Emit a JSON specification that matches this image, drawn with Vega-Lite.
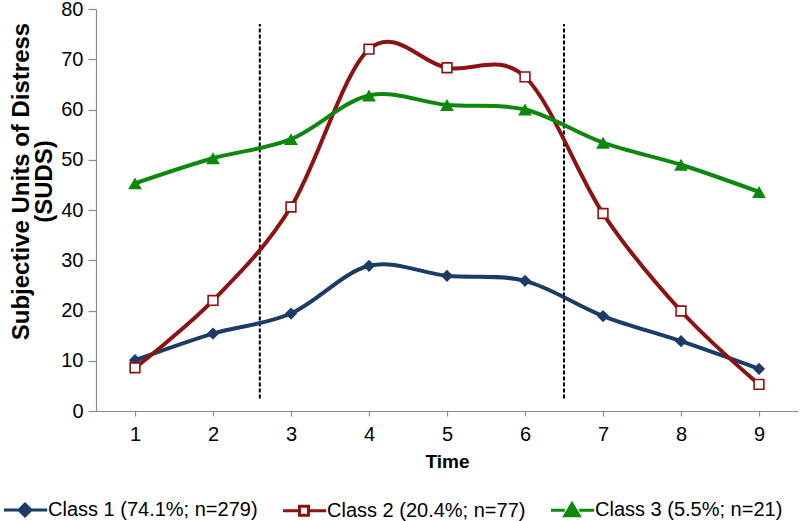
{
  "$schema": "https://vega.github.io/schema/vega-lite/v6.json",
  "width": 702,
  "height": 402,
  "autosize": "none",
  "padding": {"left": 96, "top": 9, "right": 2, "bottom": 110},
  "config": {
    "view": {"stroke": null},
    "font": "Liberation Sans",
    "axis": {"grid": false, "domainColor": "#8c8c8c", "tickColor": "#8c8c8c", "domainWidth": 1.2, "tickWidth": 1.2, "labelColor": "#000", "labelFont": "Liberation Sans", "titleFont": "Liberation Sans", "titleColor": "#000", "labelFontSize": 20, "titleFontWeight": "bold", "labelFlush": false, "labelOverlap": false},
    "axisX": {"tickSize": 5, "labelPadding": 8, "titlePadding": 8, "titleFontSize": 19},
    "axisY": {"tickSize": 8, "labelPadding": 5, "titlePadding": 4, "titleFontSize": 24, "titleLineHeight": 23},
    "legend": {"labelFontSize": 20, "labelColor": "#000", "labelFont": "Liberation Sans", "labelLimit": 400}
  },
  "datasets": {
    "pts": [
      {"series": "Class 1 (74.1%; n=279)", "time": 1, "suds": 10.1},
      {"series": "Class 1 (74.1%; n=279)", "time": 2, "suds": 15.4},
      {"series": "Class 1 (74.1%; n=279)", "time": 3, "suds": 19.4},
      {"series": "Class 1 (74.1%; n=279)", "time": 4, "suds": 28.9},
      {"series": "Class 1 (74.1%; n=279)", "time": 5, "suds": 26.9},
      {"series": "Class 1 (74.1%; n=279)", "time": 6, "suds": 25.9},
      {"series": "Class 1 (74.1%; n=279)", "time": 7, "suds": 18.9},
      {"series": "Class 1 (74.1%; n=279)", "time": 8, "suds": 13.9},
      {"series": "Class 1 (74.1%; n=279)", "time": 9, "suds": 8.4},
      {"series": "Class 2 (20.4%; n=77)", "time": 1, "suds": 8.6},
      {"series": "Class 2 (20.4%; n=77)", "time": 2, "suds": 22.0},
      {"series": "Class 2 (20.4%; n=77)", "time": 3, "suds": 40.6},
      {"series": "Class 2 (20.4%; n=77)", "time": 4, "suds": 72.0},
      {"series": "Class 2 (20.4%; n=77)", "time": 5, "suds": 68.3},
      {"series": "Class 2 (20.4%; n=77)", "time": 6, "suds": 66.5},
      {"series": "Class 2 (20.4%; n=77)", "time": 7, "suds": 39.3},
      {"series": "Class 2 (20.4%; n=77)", "time": 8, "suds": 19.9},
      {"series": "Class 2 (20.4%; n=77)", "time": 9, "suds": 5.3},
      {"series": "Class 3 (5.5%; n=21)", "time": 1, "suds": 45.3},
      {"series": "Class 3 (5.5%; n=21)", "time": 2, "suds": 50.3},
      {"series": "Class 3 (5.5%; n=21)", "time": 3, "suds": 54.1},
      {"series": "Class 3 (5.5%; n=21)", "time": 4, "suds": 62.8},
      {"series": "Class 3 (5.5%; n=21)", "time": 5, "suds": 60.9},
      {"series": "Class 3 (5.5%; n=21)", "time": 6, "suds": 60.0},
      {"series": "Class 3 (5.5%; n=21)", "time": 7, "suds": 53.4},
      {"series": "Class 3 (5.5%; n=21)", "time": 8, "suds": 49.0},
      {"series": "Class 3 (5.5%; n=21)", "time": 9, "suds": 43.6}
    ],
    "phases": [
      {"time": 2.6, "lo": 2.5, "hi": 77},
      {"time": 6.5, "lo": 2.5, "hi": 77}
    ]
  },
  "layer": [
    {
      "data": {"name": "phases"},
      "mark": {"type": "rule", "color": "#000", "strokeWidth": 2, "strokeDash": [4, 2]},
      "encoding": {
        "x": {"field": "time", "type": "quantitative", "scale": {"domain": [0.5, 9.5], "nice": false, "zero": false},
          "axis": {"values": [1, 2, 3, 4, 5, 6, 7, 8, 9], "format": "d", "title": "Time"}},
        "y": {"field": "lo", "type": "quantitative", "scale": {"domain": [0, 80], "nice": false},
          "axis": {"values": [0, 10, 20, 30, 40, 50, 60, 70, 80], "format": "d", "title": ["Subjective Units of Distress", "(SUDS)"], "titleY": 172}},
        "y2": {"field": "hi"}
      }
    },
    {
      "data": {"name": "pts"},
      "mark": {"type": "line", "interpolate": "cardinal", "tension": 0, "strokeWidth": 4},
      "encoding": {
        "x": {"field": "time", "type": "quantitative"},
        "y": {"field": "suds", "type": "quantitative"},
        "color": {"field": "series", "type": "nominal",
          "scale": {"domain": ["Class 1 (74.1%; n=279)", "Class 2 (20.4%; n=77)", "Class 3 (5.5%; n=21)"], "range": ["#1c3b68", "#8e1212", "#0c880c"]},
          "legend": {
            "orient": "none", "legendX": -96, "legendY": 491, "direction": "horizontal", "title": null, "padding": 0,
            "symbolSize": 144, "symbolStrokeWidth": 3,
            "labelOffset": 28, "columnPadding": 19,
            "encode": {"symbols": {"update": {
              "shape": {"signal": "datum.value === 'Class 1 (74.1%; n=279)' ? 'M-1,0H6.2M2.5,-1L3.5,0L2.5,1L1.5,0Z' : datum.value === 'Class 2 (20.4%; n=77)' ? 'M-1,0H1.75M3.25,0H6.2M1.75,-0.75H3.25V0.75H1.75Z' : 'M-1,0H1.3M3.7,0H6.2M2.5,-1.1L3.7,0.9H1.3Z'"},
              "fill": {"signal": "datum.value === 'Class 1 (74.1%; n=279)' ? '#1c3b68' : datum.value === 'Class 2 (20.4%; n=77)' ? '#ffffff' : '#0c880c'"},
              "fillOpacity": {"value": 1},
              "strokeWidth": {"value": 3}
            }}}
          }},
        "order": {"field": "time", "type": "quantitative"}
      }
    },
    {
      "data": {"name": "pts"},
      "transform": [{"filter": "datum.series === 'Class 1 (74.1%; n=279)'"}],
      "mark": {"type": "point", "shape": "diamond", "filled": true, "color": "#1c3b68", "opacity": 1, "size": 150},
      "encoding": {
        "x": {"field": "time", "type": "quantitative"},
        "y": {"field": "suds", "type": "quantitative"}
      }
    },
    {
      "data": {"name": "pts"},
      "transform": [{"filter": "datum.series === 'Class 2 (20.4%; n=77)'"}],
      "mark": {"type": "point", "shape": "square", "fill": "#ffffff", "stroke": "#8e1212", "strokeWidth": 1.6, "opacity": 1, "size": 95},
      "encoding": {
        "x": {"field": "time", "type": "quantitative"},
        "y": {"field": "suds", "type": "quantitative"}
      }
    },
    {
      "data": {"name": "pts"},
      "transform": [{"filter": "datum.series === 'Class 3 (5.5%; n=21)'"}],
      "mark": {"type": "point", "shape": "triangle-up", "filled": true, "color": "#0c880c", "opacity": 1, "size": 190},
      "encoding": {
        "x": {"field": "time", "type": "quantitative"},
        "y": {"field": "suds", "type": "quantitative"}
      }
    }
  ]
}
